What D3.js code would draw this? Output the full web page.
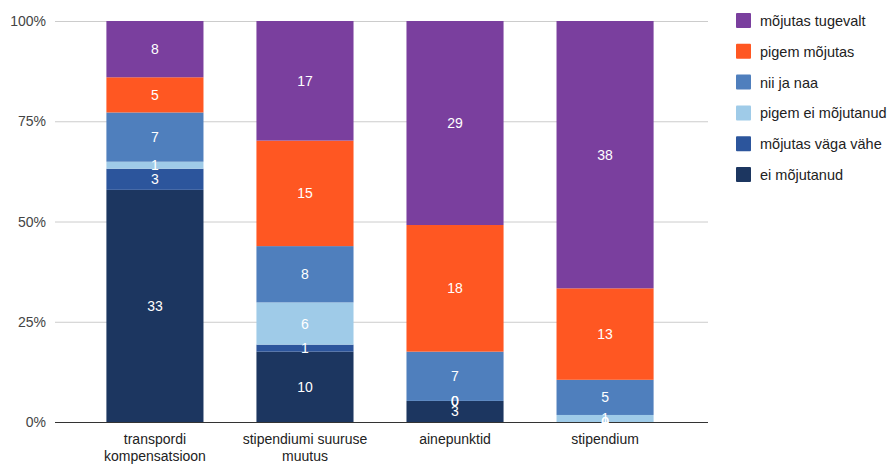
<!DOCTYPE html>
<html lang="et">
<head>
<meta charset="utf-8">
<script src="https://cdn.jsdelivr.net/npm/d3@7"></script>
<style>
  html, body { margin: 0; padding: 0; background: #fff; }
  text { font-family: "Liberation Sans", Arial, sans-serif; }
</style>
</head>
<body>
<script>
// categories and series (bottom to top in the stack)
const categories = [["transpordi", "kompensatsioon"], ["stipendiumi suuruse", "muutus"], ["ainepunktid"], ["stipendium"]];
const seriesNames = ["ei mõjutanud", "mõjutas väga vähe", "pigem ei mõjutanud", "nii ja naa", "pigem mõjutas", "mõjutas tugevalt"];
const eiMojutanud = [33, 10, 3, 0];
const vagaVahe = [3, 1, 0, 0];
const pigemEi = [1, 6, 0, 1];
const niiJaNaa = [7, 8, 7, 5];
const pigemMojutas = [5, 15, 18, 13];
const tugevalt = [8, 17, 29, 38];
const yTicks = [0, 0.25, 0.5, 0.75, 1];
const colors = ["#1c3660", "#2c559c", "#9fcbe8", "#4f7fbd", "#ff5722", "#7a3f9e"];

const w = 890, h = 465;
const svg = d3.select("body").append("svg").attr("width", w).attr("height", h);

const seriesValues = [eiMojutanud, vagaVahe, pigemEi, niiJaNaa, pigemMojutas, tugevalt];
const rows = categories.map((c, i) => {
  const r = { key: i };
  seriesNames.forEach((s, j) => r[s] = seriesValues[j][i]);
  return r;
});

const stack = d3.stack().keys(seriesNames).offset(d3.stackOffsetExpand);
const stacked = stack(rows);

const x = d3.scaleBand().domain(d3.range(categories.length)).range([80, 680]).paddingInner(0.353).paddingOuter(0.176);
const y = d3.scaleLinear().domain([0, 1]).range([422, 21]);

// gridlines
svg.append("g").selectAll("line").data(yTicks).join("line")
  .attr("x1", 55).attr("x2", 708)
  .attr("y1", d => y(d) + 0.5).attr("y2", d => y(d) + 0.5)
  .attr("stroke", d => d === 0 ? "#333" : "#ccc");

svg.append("g").selectAll("text").data(yTicks).join("text")
  .attr("x", 46).attr("y", d => y(d) + 5)
  .attr("text-anchor", "end").attr("font-size", 14).attr("fill", "#444")
  .text(d => Math.round(d * 100) + "%");

// bars
const layers = svg.append("g").selectAll("g").data(stacked).join("g")
  .attr("fill", (d, i) => colors[i]);

layers.selectAll("rect").data(d => d).join("rect")
  .attr("x", (d, i) => x(i))
  .attr("width", x.bandwidth())
  .attr("y", d => y(d[1]))
  .attr("height", d => y(d[0]) - y(d[1]));

// value labels
svg.append("g").selectAll("g").data(stacked).join("g")
  .selectAll("text").data(d => d.map(p => ({ p, key: d.key }))).join("text")
  .attr("x", (d, i) => x(i) + x.bandwidth() / 2)
  .attr("y", d => (y(d.p[0]) + y(d.p[1])) / 2 + 5)
  .attr("text-anchor", "middle").attr("font-size", 14).attr("fill", "#fff")
  .text(d => d.p.data[d.key]);

// x labels
const xl = svg.append("g").selectAll("text").data(categories).join("text")
  .attr("x", (d, i) => x(i) + x.bandwidth() / 2)
  .attr("y", 444)
  .attr("text-anchor", "middle").attr("font-size", 14).attr("fill", "#222");
xl.selectAll("tspan").data(d => d).join("tspan")
  .attr("x", function() { return d3.select(this.parentNode).attr("x"); })
  .attr("dy", (d, i) => i === 0 ? 0 : 17)
  .text(d => d);

// legend (top entry is last series)
const legendItems = seriesNames.map((s, i) => ({ s, c: colors[i] })).reverse();
const lg = svg.append("g").selectAll("g").data(legendItems).join("g")
  .attr("transform", (d, i) => `translate(736, ${13 + i * 30.8})`);
lg.append("rect").attr("width", 15).attr("height", 15).attr("rx", 1).attr("fill", d => d.c);
lg.append("text").attr("x", 24).attr("y", 13).attr("font-size", 14.5).attr("fill", "#222").text(d => d.s);
</script>
</body>
</html>
